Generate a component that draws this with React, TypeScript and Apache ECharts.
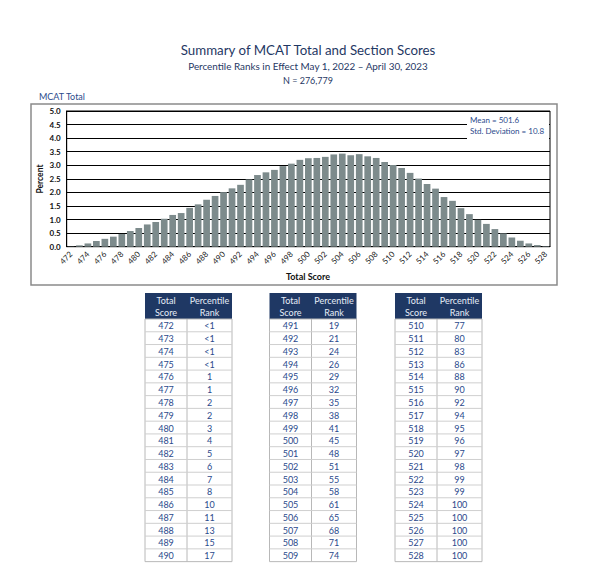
import React, { useEffect, useRef } from "react";
import * as echarts from "echarts";

const scores = [
  "472","473","474","475","476","477","478","479","480","481","482","483","484","485","486","487","488","489","490",
  "491","492","493","494","495","496","497","498","499","500","501","502","503","504","505","506","507","508","509",
  "510","511","512","513","514","515","516","517","518","519","520","521","522","523","524","525","526","527","528",
];
const percents = [
  0.01,0.05,0.12,0.21,0.29,0.37,0.47,0.58,0.69,0.82,0.91,1.03,1.17,1.24,1.43,1.56,1.73,1.87,2.01,
  2.15,2.28,2.48,2.64,2.74,2.83,2.97,3.06,3.20,3.26,3.27,3.31,3.40,3.43,3.37,3.41,3.33,3.27,3.12,
  3.01,2.90,2.72,2.51,2.31,2.14,1.83,1.69,1.42,1.20,0.99,0.84,0.65,0.49,0.34,0.22,0.12,0.06,0.02,
];
const ranks = [
  "<1","<1","<1","<1","1","1","2","2","3","4","5","6","7","8","10","11","13","15","17",
  "19","21","24","26","29","32","35","38","41","45","48","51","55","58","61","65","68","71","74",
  "77","80","83","86","88","90","92","94","95","96","97","98","99","99","100","100","100","100","100",
];
const yTicks = ["0.0","0.5","1.0","1.5","2.0","2.5","3.0","3.5","4.0","4.5","5.0"];

const FONT = "Lato, 'Liberation Sans', sans-serif";
const BLUE = "#2b4a8c";
const NAVY = "#1f3864";

export default function App() {
  const ref = useRef<HTMLDivElement>(null);
  useEffect(() => {
    const chart = echarts.init(ref.current!, null, { renderer: "svg" });

    const graphics: any[] = [];
    graphics.push({
      type: "rect",
      shape: { x: 31, y: 104, width: 526, height: 181 },
      style: { fill: "none", stroke: "#8a8a8a", lineWidth: 1.5 },
      z: 1,
    });
    graphics.push({
      type: "text", x: 308, y: 50, z: 10,
      style: { text: "Summary of MCAT Total and Section Scores", align: "center", verticalAlign: "middle", fill: NAVY, font: `13.3px ${FONT}` },
    });
    graphics.push({
      type: "text", x: 308, y: 66, z: 10,
      style: { text: "Percentile Ranks in Effect May 1, 2022 \u2013 April 30, 2023", align: "center", verticalAlign: "middle", fill: NAVY, font: `9.9px ${FONT}` },
    });
    graphics.push({
      type: "text", x: 308, y: 80, z: 10,
      style: { text: "N = 276,779", align: "center", verticalAlign: "middle", fill: NAVY, font: `9px ${FONT}` },
    });
    graphics.push({
      type: "text", x: 39, y: 96, z: 10,
      style: { text: "MCAT Total", align: "left", verticalAlign: "middle", fill: BLUE, font: `9px ${FONT}` },
    });
    graphics.push({
      type: "text", x: 40, y: 179, rotation: Math.PI / 2, z: 10,
      style: { text: "Percent", align: "center", verticalAlign: "middle", fill: "#111", font: `bold 8.5px ${FONT}` },
    });
    graphics.push({
      type: "text", x: 308, y: 276, z: 10,
      style: { text: "Total Score", align: "center", verticalAlign: "middle", fill: "#111", font: `bold 9px ${FONT}` },
    });
    graphics.push({
      type: "rect", z: 20,
      shape: { x: 467, y: 113, width: 82, height: 26 },
      style: { fill: "#ffffff", stroke: "none" },
    });
    graphics.push({
      type: "text", x: 470, y: 120, z: 21,
      style: { text: "Mean = 501.6", align: "left", verticalAlign: "middle", fill: BLUE, font: `8px ${FONT}` },
    });
    graphics.push({
      type: "text", x: 470, y: 131, z: 21,
      style: { text: "Std. Deviation = 10.8", align: "left", verticalAlign: "middle", fill: BLUE, font: `8px ${FONT}` },
    });

    const perTable = 19;
    const tableLefts = [145, 269.5, 395];
    const c1 = 42, c2 = 45;
    const headTop = 293, headH = 26, rowH = 12.77;
    for (let t = 0; t < 3; t++) {
      const L = tableLefts[t];
      const W = c1 + c2;
      graphics.push({ type: "rect", z: 5, shape: { x: L, y: headTop, width: W, height: headH }, style: { fill: NAVY } });
      const hx1 = L + c1 / 2, hx2 = L + c1 + c2 / 2;
      const hStyle = (text: string) => ({ text, align: "center", verticalAlign: "middle", fill: "#e6edf7", font: `9px ${FONT}` });
      graphics.push({ type: "text", z: 6, x: hx1, y: headTop + 7, style: hStyle("Total") });
      graphics.push({ type: "text", z: 6, x: hx1, y: headTop + 19.5, style: hStyle("Score") });
      graphics.push({ type: "text", z: 6, x: hx2, y: headTop + 7, style: hStyle("Percentile") });
      graphics.push({ type: "text", z: 6, x: hx2, y: headTop + 19.5, style: hStyle("Rank") });
      const bodyTop = headTop + headH;
      const bodyH = rowH * perTable;
      graphics.push({ type: "rect", z: 5, shape: { x: L, y: bodyTop, width: W, height: bodyH }, style: { fill: "#fff", stroke: "#b8b8b8", lineWidth: 1 } });
      graphics.push({ type: "line", z: 6, shape: { x1: L + c1, y1: bodyTop, x2: L + c1, y2: bodyTop + bodyH }, style: { stroke: "#b8b8b8", lineWidth: 1 } });
      for (let r = 0; r < perTable; r++) {
        const idx = t * perTable + r;
        const y = bodyTop + r * rowH;
        if (r > 0) {
          graphics.push({ type: "line", z: 6, shape: { x1: L, y1: y, x2: L + W, y2: y }, style: { stroke: "#cfcfcf", lineWidth: 1 } });
        }
        const cy = y + rowH / 2 + 0.5;
        graphics.push({ type: "text", z: 7, x: hx1, y: cy, style: { text: scores[idx], align: "center", verticalAlign: "middle", fill: BLUE, font: `9px ${FONT}` } });
        graphics.push({ type: "text", z: 7, x: hx2, y: cy, style: { text: ranks[idx], align: "center", verticalAlign: "middle", fill: BLUE, font: `9px ${FONT}` } });
      }
    }

    chart.setOption({
      animation: false,
      backgroundColor: "#ffffff",
      grid: {
        left: 66.7, right: 50, top: 111, bottom: 583 - 246.7,
        show: true, borderColor: "#000", borderWidth: 1,
        containLabel: false, outerBoundsMode: "none",
      },
      xAxis: {
        type: "category",
        data: scores,
        axisLine: { show: true, lineStyle: { color: "#000", width: 1 } },
        axisTick: { show: false },
        axisLabel: { interval: 1, rotate: 45, fontSize: 8, color: "#222", fontFamily: FONT, margin: 6 },
      },
      yAxis: {
        type: "value",
        min: 0, max: 5, interval: 0.5,
        axisLine: { show: true, lineStyle: { color: "#000", width: 1 } },
        axisTick: { show: false },
        splitLine: { show: true, lineStyle: { color: "#000", width: 1 } },
        axisLabel: {
          fontSize: 8, fontWeight: "bold", color: "#111", fontFamily: FONT, margin: 6,
          formatter: (v: number) => yTicks[Math.round(v * 2)] ?? v.toFixed(1),
        },
      },
      series: [
        {
          type: "bar",
          data: percents,
          barCategoryGap: "21%",
          itemStyle: { color: "#7d8b8c" },
          z: 3,
        },
      ],
      graphic: graphics,
    });
    return () => chart.dispose();
  }, []);
  return <div ref={ref} style={{ position: "absolute", left: 0, top: 0, width: 600, height: 583 }} />;
}
